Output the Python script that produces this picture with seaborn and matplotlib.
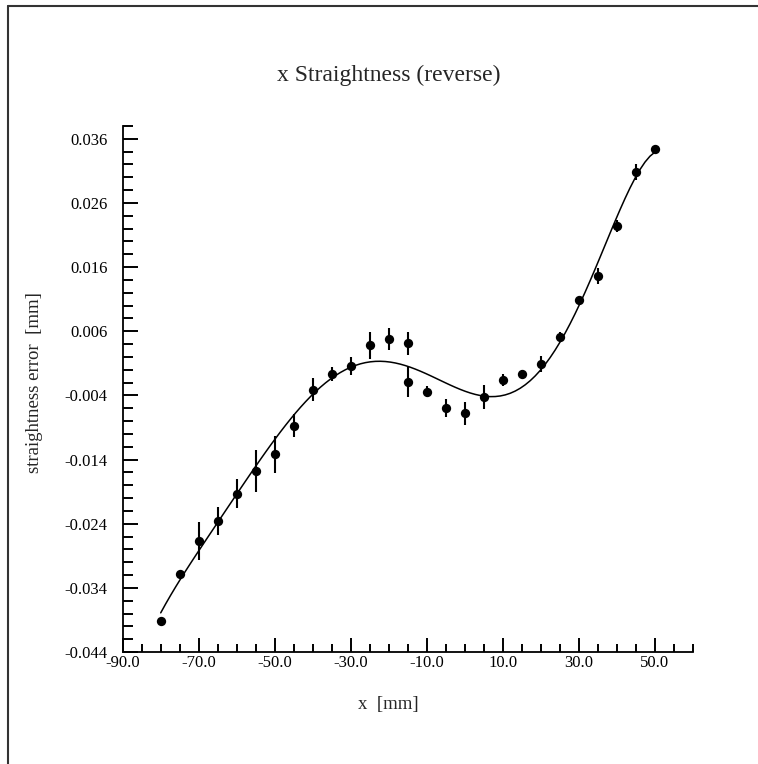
import numpy as np
import pandas as pd
import matplotlib
matplotlib.use("Agg")
import matplotlib.pyplot as plt
import seaborn as sns
from matplotlib.ticker import MultipleLocator, FixedLocator, FormatStrFormatter

# Data
x_mm = [-80, -75, -70, -65, -60, -55, -50, -45, -40, -35, -30, -25, -20,
        -15, -15, -10, -5, 0, 5, 10, 15, 20, 25, 30, 35, 40, 45, 50]
err_mm = [-0.0391, -0.0318, -0.0267, -0.0236, -0.0193, -0.0158, -0.0132, -0.0087,
          -0.0031, -0.0006, 0.0006, 0.0038, 0.0048,
          0.0041, -0.0019, -0.0034, -0.0060, -0.0068, -0.0042, -0.0016, -0.0007,
          0.0009, 0.0051, 0.0108, 0.0146, 0.0224, 0.0308, 0.0344]
unc_mm = [0.0002, 0.0004, 0.0029, 0.0022, 0.0022, 0.0033, 0.0029, 0.0018,
          0.0018, 0.0011, 0.0014, 0.0021, 0.0017,
          0.0018, 0.0024, 0.0009, 0.0014, 0.0018, 0.0019, 0.0010, 0.0006,
          0.0012, 0.0008, 0.0006, 0.0012, 0.0010, 0.0012, 0.0002]
x_ticks = [-90.0, -70.0, -50.0, -30.0, -10.0, 10.0, 30.0, 50.0]
y_ticks = [-0.044, -0.034, -0.024, -0.014, -0.004, 0.006, 0.016, 0.026, 0.036]
title = "x Straightness (reverse)"
xlabel = "x  [mm]"
ylabel = "straightness error  [mm]"

df = pd.DataFrame({"x": x_mm, "y": err_mm, "e": unc_mm})

sns.set_style("ticks")
plt.rcParams["font.family"] = ["Liberation Serif", "DejaVu Serif"]

W, H = 758, 764
fig = plt.figure(figsize=(W / 100, H / 100), dpi=100)
ax = fig.add_axes([122.7 / W, 1 - 652 / H, (693 - 122.7) / W, (652 - 126) / H])

# fitted curve (polynomial fit through the measured points)
sns.regplot(data=df, x="x", y="y", order=6, ci=None, scatter=False,
            line_kws={"color": "black", "lw": 1.1}, ax=ax)
# error bars
ax.errorbar(df["x"], df["y"], yerr=df["e"], fmt="none", ecolor="black",
            elinewidth=1.5, capsize=0, zorder=3)
# points
sns.scatterplot(data=df, x="x", y="y", color="black", s=45, edgecolor="black",
                linewidth=0, zorder=4, ax=ax)

ax.set_xlim(-90, 60)
ax.set_ylim(-0.044, 0.038)
ax.xaxis.set_major_locator(FixedLocator(x_ticks))
ax.xaxis.set_minor_locator(MultipleLocator(5))
ax.yaxis.set_major_locator(FixedLocator(y_ticks))
ax.yaxis.set_minor_locator(MultipleLocator(0.002))
ax.xaxis.set_major_formatter(FormatStrFormatter("%.1f"))
ax.yaxis.set_major_formatter(FormatStrFormatter("%.3f"))
ax.tick_params(axis="both", which="both", direction="in", color="black",
               width=1.4, labelsize=12, labelcolor="black",
               bottom=True, left=True, top=False, right=False)
ax.tick_params(axis="x", which="major", length=10, pad=2)
ax.tick_params(axis="x", which="minor", length=5.5)
ax.tick_params(axis="y", which="major", length=11, pad=11)
ax.tick_params(axis="y", which="minor", length=7)
for s in ["top", "right"]:
    ax.spines[s].set_visible(False)
for s in ["left", "bottom"]:
    ax.spines[s].set_color("black")
    ax.spines[s].set_linewidth(1.3)
ax.set_xlabel("")
ax.set_ylabel("")

fig.text(389 / W, 1 - 75 / H, title, ha="center", va="center", fontsize=17)
fig.text(388 / W, 1 - 704 / H, xlabel, ha="center", va="center", fontsize=13.5)
fig.text(35 / W, 1 - 383 / H, ylabel, ha="center", va="center", rotation=90, fontsize=13.5)

# outer frame (left and top edges visible)
fig.add_artist(plt.Line2D([8 / W, 8 / W], [0, 1 - 6 / H], transform=fig.transFigure,
                          color="#333333", lw=1.5))
fig.add_artist(plt.Line2D([8 / W, 1], [1 - 6 / H, 1 - 6 / H], transform=fig.transFigure,
                          color="#333333", lw=1.5))

fig.savefig("out.png", dpi=100)
